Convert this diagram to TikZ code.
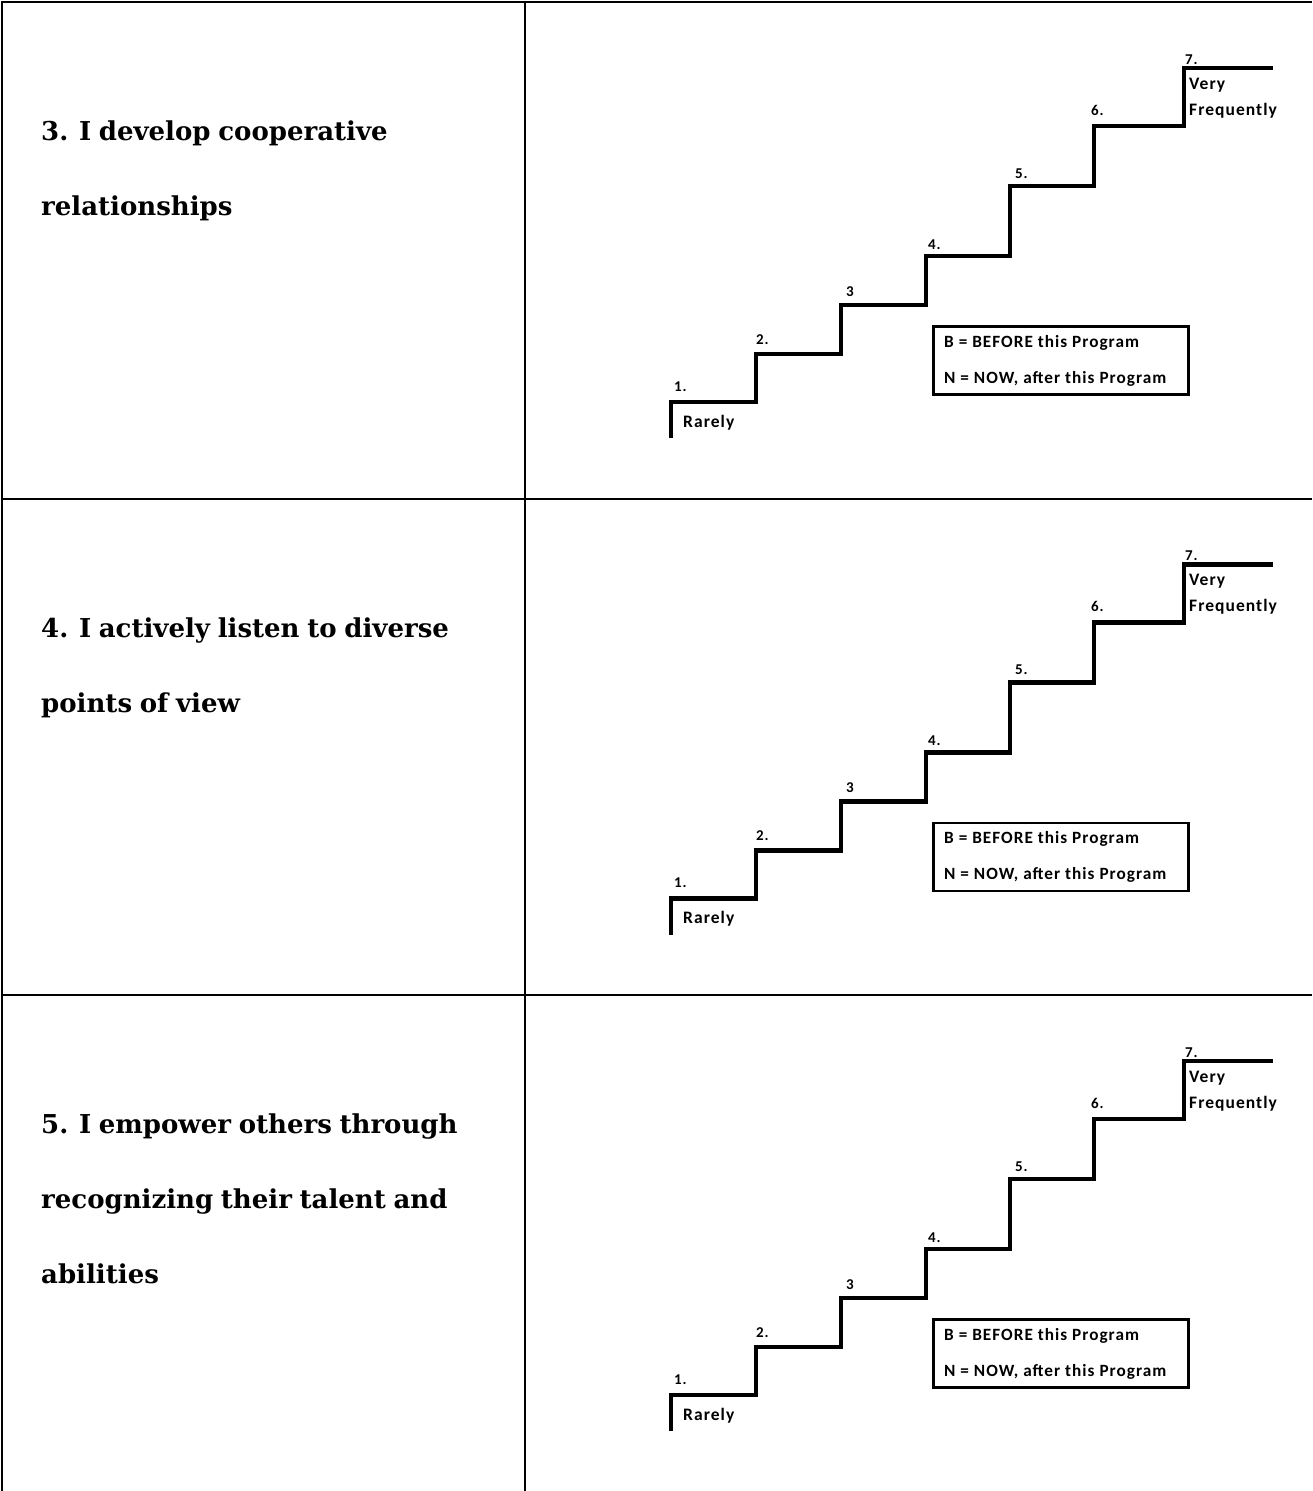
\documentclass[tikz,border=0pt]{standalone}
\usepackage{fontspec}
\newfontfamily\qfont{DejaVu Serif}[WordSpace=0.85]
\newfontfamily\lfont{Carlito}[LetterSpace=6]
\begin{document}
\begin{tikzpicture}[x=1pt,y=-1pt,
  rule/.style={line width=2pt,black},
  stair/.style={line width=4.2pt,line join=miter,black},
  legendbox/.style={draw,line width=2.5pt,minimum width=255pt,minimum height=68pt,inner sep=0pt,anchor=north west},
  stepnum/.style={font=\lfont\bfseries\fontsize{15}{17}\selectfont,anchor=base west,inner sep=0pt},
  sidelbl/.style={font=\lfont\bfseries\fontsize{17.5}{20}\selectfont,anchor=base west,inner sep=0pt},
  legtext/.style={font=\lfont\bfseries\fontsize{17.2}{19}\selectfont,anchor=base west,inner sep=0pt},
  qline/.style={font=\qfont\bfseries\fontsize{26}{30}\selectfont,anchor=base west,inner sep=0pt}]
\useasboundingbox (0,0) rectangle (1312,1491);
\fill[white] (0,0) rectangle (1312,1491);

% table rules
\draw[rule] (2,1491) -- (2,2) -- (1312,2);
\draw[rule] (525,2) -- (525,1491);
\draw[rule] (2,498.5) -- (1312,498.5);
\draw[rule] (2,995) -- (1312,995);

% statements
\node[qline] (q3a) at (41,140) {3. I develop cooperative};
\node[qline] (q3b) at (41,215) {relationships};
\node[qline] (q4a) at (41,637) {4. I actively listen to diverse};
\node[qline] (q4b) at (41,712) {points of view};
\node[qline] (q5a) at (41,1133) {5. I empower others through};
\node[qline] (q5b) at (41,1208) {recognizing their talent and};
\node[qline] (q5c) at (41,1283) {abilities};

% rating staircases
\foreach \r/\dy in {1/0,2/496.5,3/993}{
  \begin{scope}[yshift=-\dy pt]
    \draw[stair] (671,438) -- (671,402) -- (756,402) -- (756,354) -- (841,354)
      -- (841,305) -- (926,305) -- (926,256) -- (1010,256) -- (1010,186)
      -- (1094,186) -- (1094,126) -- (1184,126) -- (1184,68) -- (1273,68);
    \node[stepnum] (n1-\r) at (674,391) {1.};
    \node[stepnum] (n2-\r) at (756,344) {2.};
    \node[stepnum] (n3-\r) at (846,296) {3};
    \node[stepnum] (n4-\r) at (928,249) {4.};
    \node[stepnum] (n5-\r) at (1015,178) {5.};
    \node[stepnum] (n6-\r) at (1091,115) {6.};
    \node[stepnum] (n7-\r) at (1185,64) {7.};
    \node[sidelbl] (rare-\r) at (683,427) {Rarely};
    \node[sidelbl] (very-\r) at (1189,89) {Very};
    \node[sidelbl] (freq-\r) at (1189,115) {Frequently};
    \node[legendbox] (leg-\r) at (932,325) {};
    \node[legtext] (legb-\r) at (944,347) {B = BEFORE this Program};
    \node[legtext] (legn-\r) at (944,383) {N = NOW, after this Program};
  \end{scope}
}
\end{tikzpicture}
\end{document}
